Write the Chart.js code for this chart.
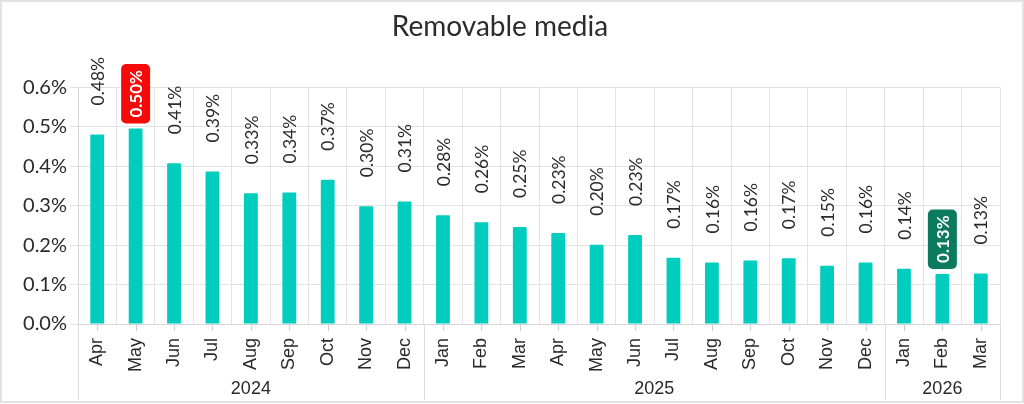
<!DOCTYPE html>
<html>
<head>
<meta charset="utf-8">
<script src="https://cdn.jsdelivr.net/npm/chart.js@4"></script>
<style>
html,body{margin:0;padding:0;background:#fff;}
#wrap{position:relative;width:1024px;height:404px;}
canvas{display:block;}
</style>
</head>
<body>
<div id="wrap"><canvas id="c" width="1024" height="404"></canvas></div>
<script>
const categories = ['Apr','May','Jun','Jul','Aug','Sep','Oct','Nov','Dec',
  'Jan','Feb','Mar','Apr','May','Jun','Jul','Aug','Sep','Oct','Nov','Dec',
  'Jan','Feb','Mar'];
const values = [0.481,0.496,0.408,0.387,0.332,0.334,0.366,0.299,0.311,
  0.276,0.258,0.246,0.231,0.201,0.226,0.168,0.156,0.161,0.167,0.148,0.156,
  0.140,0.127,0.128];
const valueLabels = ['0.48%','0.50%','0.41%','0.39%','0.33%','0.34%','0.37%','0.30%','0.31%',
  '0.28%','0.26%','0.25%','0.23%','0.20%','0.23%','0.17%','0.16%','0.16%','0.17%','0.15%','0.16%',
  '0.14%','0.13%','0.13%'];
const years = ['2024','2025','2026'];
const yearStart = [0, 9, 21];
const yearEnd = [8, 20, 23];
const yTicks = [0,0.1,0.2,0.3,0.4,0.5,0.6];
const maxIndex = 1;
const minIndex = 22;

const GRID = '#e3e3e3';
const DARK = '#2a2a2a';

const overlay = {
  id: 'overlay',
  afterDatasetsDraw(chart) {
    const ctx = chart.ctx;
    const meta = chart.getDatasetMeta(0);
    ctx.save();
    meta.data.forEach((bar, i) => {
      const x = bar.x, y = bar.y;
      const txt = valueLabels[i];
      if (i === maxIndex || i === minIndex) {
        ctx.font = 'bold 17px Lato';
        const w = ctx.measureText(txt).width;
        const h = w + 12;
        const bw = 29;
        ctx.fillStyle = i === maxIndex ? '#f50a0a' : '#0b7a5f';
        ctx.beginPath();
        ctx.roundRect(x - bw/2, y - 5 - h, bw, h, 5);
        ctx.fill();
        ctx.save();
        ctx.translate(x, y - 5 - h/2);
        ctx.rotate(-Math.PI/2);
        ctx.fillStyle = '#ffffff';
        ctx.textAlign = 'center';
        ctx.textBaseline = 'middle';
        ctx.fillText(txt, 0, 1);
        ctx.restore();
      } else {
        ctx.font = '17.5px Lato';
        ctx.save();
        ctx.translate(x, y - 29);
        ctx.rotate(-Math.PI/2);
        ctx.fillStyle = DARK;
        ctx.textAlign = 'left';
        ctx.textBaseline = 'middle';
        ctx.fillText(txt, 0, 1);
        ctx.restore();
      }
    });
    ctx.restore();
  },
  afterDraw(chart) {
    const ctx = chart.ctx;
    const xs = chart.scales.x;
    const area = chart.chartArea;
    const step = xs.getPixelForValue(1) - xs.getPixelForValue(0);
    ctx.save();
    ctx.strokeStyle = '#cfcfcf';
    ctx.lineWidth = 1;
    for (let i = 0; i < categories.length; i++) {
      const px = Math.round(xs.getPixelForValue(i)) + 0.5;
      ctx.beginPath();
      ctx.moveTo(px, area.bottom);
      ctx.lineTo(px, area.bottom + 7);
      ctx.stroke();
    }
    ctx.strokeStyle = '#dcdcdc';
    ctx.fillStyle = DARK;
    ctx.font = '18px "Liberation Sans", Arial';
    ctx.textAlign = 'center';
    ctx.textBaseline = 'middle';
    for (let g = 0; g < years.length; g++) {
      const x0 = xs.getPixelForValue(yearStart[g]) - step/2;
      const x1 = xs.getPixelForValue(yearEnd[g]) + step/2;
      [x0, x1].forEach(xx => {
        const px = Math.round(xx) + 0.5;
        ctx.beginPath();
        ctx.moveTo(px, area.bottom);
        ctx.lineTo(px, 400);
        ctx.stroke();
      });
      ctx.fillText(years[g], (x0 + x1)/2, 389);
    }
    ctx.strokeStyle = '#e2e2e2';
    ctx.lineWidth = 2;
    ctx.strokeRect(1, 1, chart.width - 2, 401);
    ctx.restore();
  }
};

new Chart(document.getElementById('c'), {
  type: 'bar',
  data: {
    labels: categories,
    datasets: [{
      data: values,
      backgroundColor: '#00cdbd',
      borderWidth: 0,
      barPercentage: 0.72,
      categoryPercentage: 0.5,
      borderRadius: {topLeft: 1, topRight: 1}
    }]
  },
  options: {
    responsive: false,
    devicePixelRatio: 1,
    animation: false,
    layout: { padding: { left: 0, right: 24, top: 0, bottom: 0 } },
    plugins: {
      legend: { display: false },
      tooltip: { enabled: false },
      title: {
        display: true,
        text: 'Removable media',
        color: '#2b2b2b',
        font: { family: 'Lato', size: 28, weight: 'normal', lineHeight: 1.2 },
        padding: { top: 10, bottom: 44 }
      }
    },
    scales: {
      x: {
        offset: true,
        grid: { display: true, offset: true, color: GRID, drawTicks: false },
        border: { display: true, color: '#d6d6d6' },
        ticks: {
          color: DARK,
          font: { family: '"Liberation Sans", Arial', size: 18 },
          minRotation: 90, maxRotation: 90,
          padding: 14,
          autoSkip: false
        },
        afterFit(scale) { scale.height = 80; }
      },
      y: {
        min: 0, max: 0.6,
        afterBuildTicks(scale) { scale.ticks = yTicks.map(v => ({ value: v })); },
        grid: { color: GRID, tickLength: 8 },
        border: { display: true, color: '#d6d6d6' },
        ticks: {
          color: DARK,
          padding: 3,
          font: { family: 'Lato', size: 20 },
          callback: (v) => Number(v).toFixed(1) + '%'
        },
        afterFit(scale) { scale.width = 78; }
      }
    }
  },
  plugins: [overlay]
});
</script>
</body>
</html>
